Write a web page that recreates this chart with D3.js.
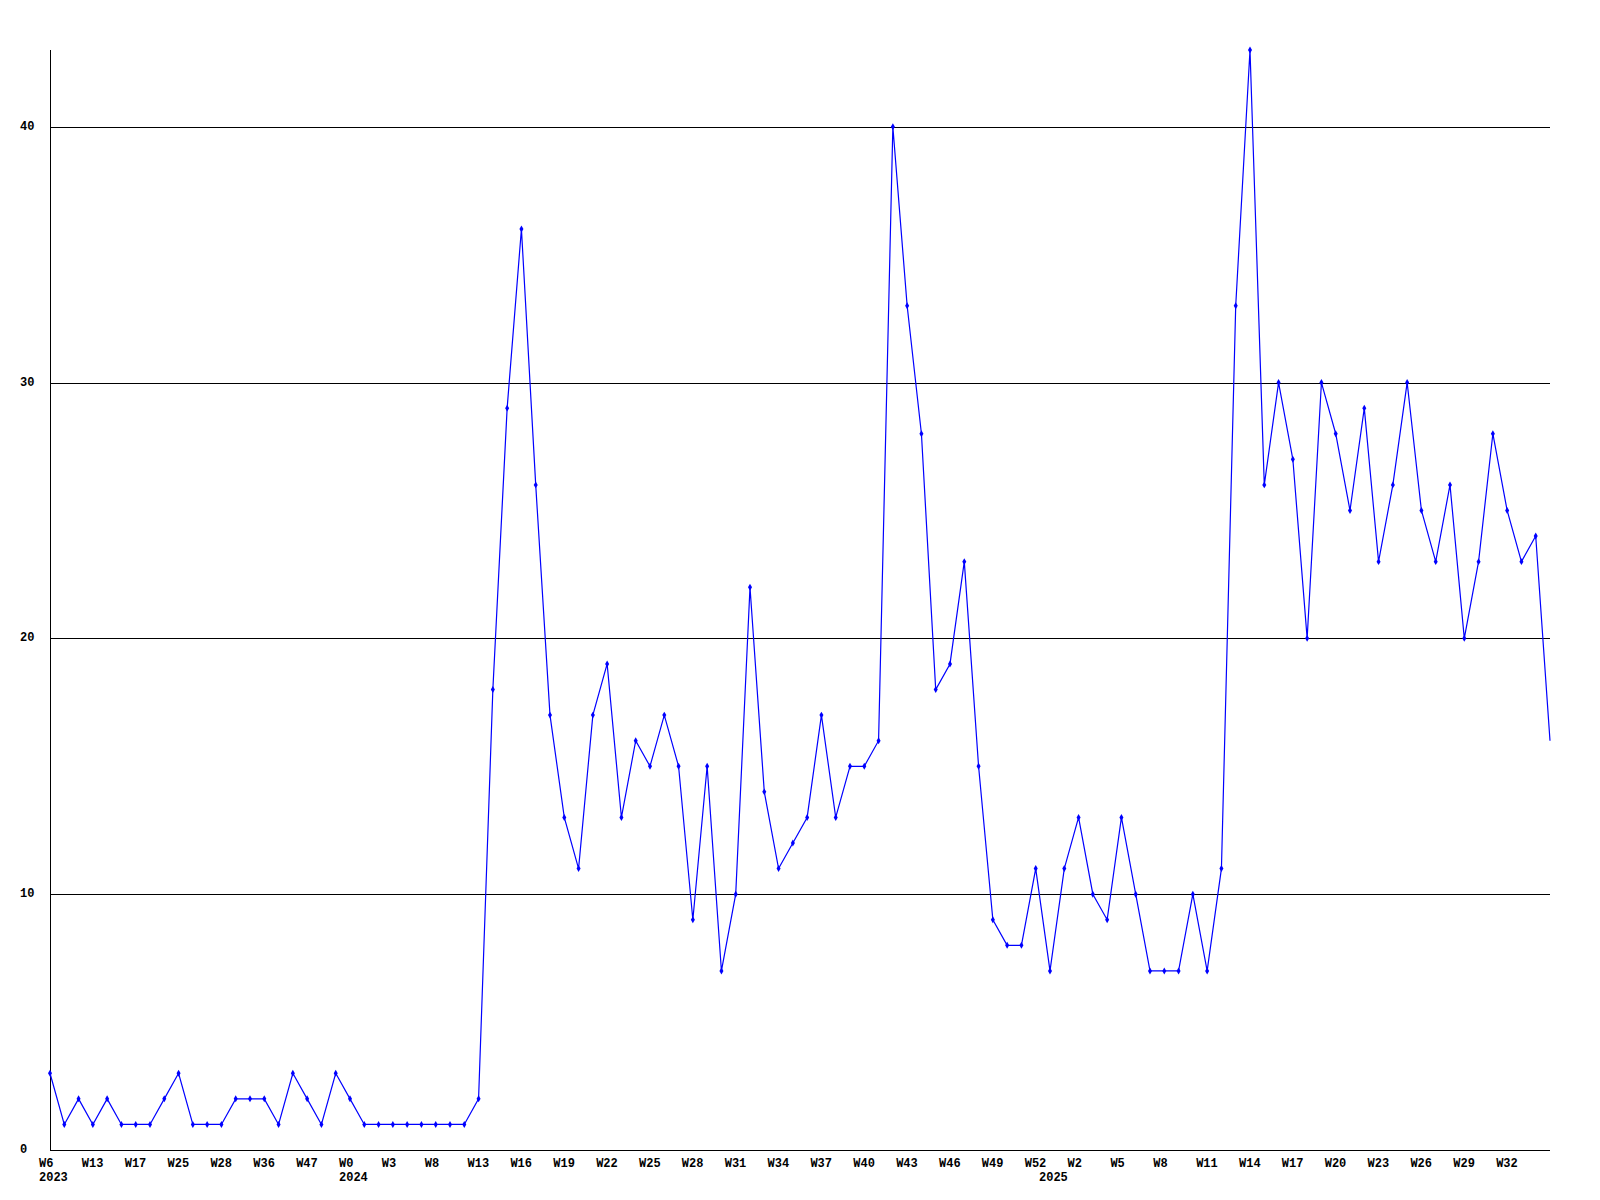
<!DOCTYPE html>
<html>
<head>
<meta charset="utf-8">
<script src="https://cdn.jsdelivr.net/npm/d3@7"></script>
<style>
  html, body { margin: 0; padding: 0; background: #ffffff; }
  svg { display: block; }
  text { font-family: "Liberation Mono", "DejaVu Sans Mono", monospace; font-weight: bold; font-size: 12px; fill: #000; }
</style>
</head>
<body>
<svg id="chart" width="1600" height="1200"></svg>
<script>
// Weekly values (one per point, left to right)
const values = [
  3, 1, 2, 1, 2, 1, 1, 1, 2, 3,
  1, 1, 1, 2, 2, 2, 1, 3, 2, 1,
  3, 2, 1, 1, 1, 1, 1, 1, 1, 1,
  2, 18, 29, 36, 26, 17, 13, 11, 17, 19,
  13, 16, 15, 17, 15, 9, 15, 7, 10, 22,
  14, 11, 12, 13, 17, 13, 15, 15, 16, 40,
  33, 28, 18, 19, 23, 15, 9, 8, 8, 11,
  7, 11, 13, 10, 9, 13, 10, 7, 7, 7,
  10, 7, 11, 33, 43, 26, 30, 27, 20, 30,
  28, 25, 29, 23, 26, 30, 25, 23, 26, 20,
  23, 28, 25, 23, 24, 16
];

// Tick labels, shown on every third point
const tickLabels = [
  "W6", "W13", "W17", "W25", "W28", "W36", "W47",
  "W0", "W3", "W8", "W13", "W16", "W19", "W22", "W25", "W28", "W31", "W34",
  "W37", "W40", "W43", "W46", "W49", "W52",
  "W2", "W5", "W8", "W11", "W14", "W17", "W20", "W23", "W26", "W29", "W32"
];
const tickEvery = 3;
// Year labels, under the first point of each year
const yearLabels = ["2023", "2024", "2025"];
const yearPointIdx = [0, 21, 70];
const yTicks = [0, 10, 20, 30, 40];
const yMax = 43;

const svg = d3.select("#chart");
const mLeft = 50, mRight = 1550, mTop = 50, mBottom = 1150;

const x = d3.scalePoint().domain(d3.range(values.length)).range([mLeft, mRight]);
const y = d3.scaleLinear().domain([0, yMax]).range([mBottom, mTop]);

// Grid lines
svg.append("g").selectAll("line").data(yTicks.filter(d => d > 0)).join("line")
  .attr("x1", mLeft).attr("x2", mRight)
  .attr("y1", d => Math.round(y(d)) + 0.5).attr("y2", d => Math.round(y(d)) + 0.5)
  .attr("stroke", "#000").attr("stroke-width", 1)
  .attr("shape-rendering", "crispEdges");

// Axes lines
svg.append("line").attr("x1", mLeft + 0.5).attr("x2", mLeft + 0.5).attr("y1", mTop).attr("y2", mBottom)
  .attr("stroke", "#000").attr("shape-rendering", "crispEdges");
svg.append("line").attr("x1", mLeft).attr("x2", mRight).attr("y1", mBottom + 0.5).attr("y2", mBottom + 0.5)
  .attr("stroke", "#000").attr("shape-rendering", "crispEdges");

// Y labels
svg.append("g").selectAll("text").data(yTicks).join("text")
  .attr("x", 20).attr("y", d => y(d))
  .attr("dominant-baseline", "central")
  .text(d => d);

// X labels
const tickIdx = tickLabels.map((_, i) => i * tickEvery);
svg.append("g").selectAll("text").data(tickLabels).join("text")
  .attr("x", (d, i) => x(tickIdx[i]) - 11)
  .attr("y", 1166.5)
  .text(d => d);
svg.append("g").selectAll("text").data(yearLabels).join("text")
  .attr("x", (d, i) => x(yearPointIdx[i]) - 11)
  .attr("y", 1181)
  .text(d => d);

// Line
const line = d3.line().x((d, i) => x(i)).y(d => y(d));
svg.append("path").datum(values)
  .attr("d", line)
  .attr("fill", "none")
  .attr("stroke", "#0000ff")
  .attr("stroke-width", 1.2);

// Markers (none on the final point at the plot edge)
const sym = d3.symbol().type(d3.symbolDiamond).size(14);
svg.append("g").selectAll("path").data(values.slice(0, -1)).join("path")
  .attr("transform", (d, i) => `translate(${x(i)},${y(d)})`)
  .attr("d", sym)
  .attr("fill", "#0000ff");
</script>
</body>
</html>
